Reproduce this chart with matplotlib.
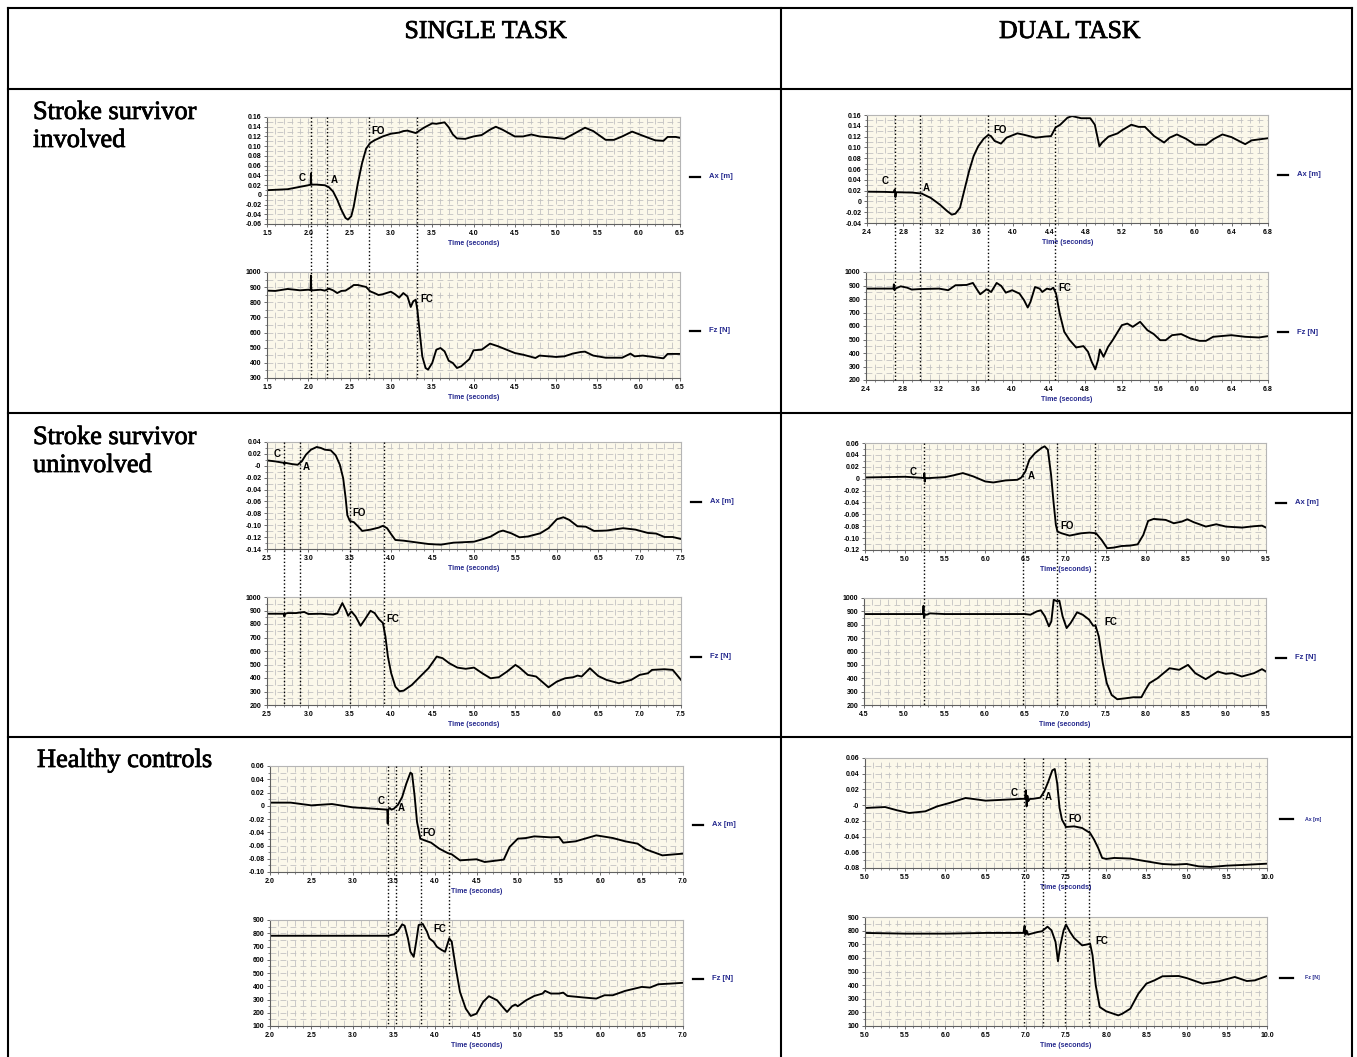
import matplotlib
matplotlib.use("Agg")
import matplotlib.pyplot as plt
import matplotlib.patheffects as pe
from matplotlib.lines import Line2D
from matplotlib.transforms import blended_transform_factory
from matplotlib.ticker import MultipleLocator

plt.rcParams['font.family'] = ['Liberation Sans', 'DejaVu Sans']

# ---------------------------------------------------------------------------
# Recorded traces: (time [s], value) pairs.  Ax in metres, Fz in newtons.
# ---------------------------------------------------------------------------
# Stroke survivor, involved limb - single task
st_inv_ax = [(1.5, 0.0095), (1.75, 0.0115), (2.0, 0.0197), (2.028, 0.021), (2.032, 0.044), (2.036, 0.021),
             (2.1, 0.021), (2.2, 0.0197), (2.25, 0.0156), (2.3, 0.0068), (2.35, -0.010), (2.4, -0.0306),
             (2.45, -0.0475), (2.48, -0.051), (2.52, -0.044), (2.55, -0.024), (2.6, 0.024), (2.65, 0.0645),
             (2.7, 0.095), (2.75, 0.1066), (2.8, 0.112), (2.9, 0.120), (3.0, 0.1256), (3.1, 0.128),
             (3.15, 0.131), (3.2, 0.132), (3.3, 0.127), (3.4, 0.138), (3.5, 0.147), (3.55, 0.146),
             (3.65, 0.149), (3.7, 0.139), (3.75, 0.124), (3.8, 0.116), (3.9, 0.115), (4.0, 0.120),
             (4.1, 0.123), (4.2, 0.134), (4.27, 0.140), (4.35, 0.134), (4.5, 0.120), (4.6, 0.120),
             (4.7, 0.124), (4.8, 0.120), (5.0, 0.117), (5.1, 0.115), (5.2, 0.124), (5.35, 0.138),
             (5.45, 0.131), (5.6, 0.113), (5.7, 0.113), (5.8, 0.120), (5.92, 0.130), (6.05, 0.1215),
             (6.2, 0.112), (6.3, 0.111), (6.35, 0.119), (6.45, 0.119), (6.5, 0.117)]
st_inv_fz = [(1.5, 877), (1.6, 875), (1.75, 888), (1.9, 879), (2.0, 883), (2.028, 880), (2.032, 976),
             (2.036, 880), (2.05, 879), (2.15, 883), (2.2, 877), (2.25, 890), (2.3, 879), (2.35, 861),
             (2.4, 875), (2.45, 877), (2.5, 894), (2.55, 914), (2.6, 914), (2.7, 901), (2.75, 872),
             (2.8, 861), (2.85, 848), (2.9, 853), (3.0, 870), (3.05, 853), (3.1, 831), (3.15, 861),
             (3.2, 839), (3.24, 769), (3.27, 806), (3.3, 817), (3.32, 751), (3.35, 597), (3.38, 443),
             (3.42, 366), (3.45, 355), (3.5, 399), (3.55, 487), (3.6, 498), (3.65, 476), (3.7, 414),
             (3.75, 399), (3.8, 366), (3.85, 377), (3.95, 425), (4.0, 483), (4.1, 487), (4.2, 527),
             (4.3, 509), (4.4, 487), (4.5, 465), (4.6, 454), (4.75, 432), (4.8, 448), (5.0, 439),
             (5.1, 443), (5.2, 461), (5.3, 472), (5.35, 474), (5.45, 448), (5.6, 434), (5.8, 434),
             (5.9, 461), (5.95, 443), (6.05, 448), (6.2, 437), (6.3, 430), (6.35, 459), (6.5, 459)]

# Stroke survivor, involved limb - dual task
dt_inv_ax = [(2.4, 0.018), (2.6, 0.0176), (2.69, 0.017), (2.705, 0.022), (2.712, 0.008), (2.72, 0.017),
             (2.9, 0.0163), (3.0, 0.0145), (3.1, 0.0064), (3.2, -0.006), (3.28, -0.018), (3.33, -0.0245),
             (3.37, -0.0227), (3.42, -0.012), (3.47, 0.022), (3.52, 0.056), (3.57, 0.084), (3.62, 0.102),
             (3.68, 0.116), (3.73, 0.123), (3.76, 0.121), (3.8, 0.112), (3.87, 0.107), (3.93, 0.118),
             (4.05, 0.126), (4.12, 0.1235), (4.25, 0.118), (4.35, 0.120), (4.42, 0.121), (4.47, 0.137),
             (4.52, 0.142), (4.6, 0.155), (4.65, 0.158), (4.75, 0.154), (4.85, 0.154), (4.9, 0.142),
             (4.93, 0.118), (4.95, 0.102), (4.98, 0.109), (5.05, 0.120), (5.15, 0.126), (5.2, 0.132),
             (5.3, 0.142), (5.38, 0.138), (5.45, 0.138), (5.55, 0.121), (5.66, 0.109), (5.72, 0.118),
             (5.8, 0.124), (5.9, 0.116), (6.0, 0.105), (6.12, 0.105), (6.2, 0.115), (6.3, 0.124),
             (6.4, 0.119), (6.48, 0.112), (6.55, 0.106), (6.62, 0.113), (6.8, 0.117)]
dt_inv_fz = [(2.4, 877), (2.7, 877), (2.705, 909), (2.712, 865), (2.72, 877), (2.78, 894), (2.85, 884),
             (2.9, 870), (3.0, 874), (3.2, 877), (3.3, 865), (3.38, 902), (3.5, 904), (3.57, 919),
             (3.62, 865), (3.65, 835), (3.72, 872), (3.77, 852), (3.83, 919), (3.88, 897), (3.93, 847),
             (4.0, 865), (4.08, 840), (4.13, 791), (4.17, 737), (4.2, 778), (4.25, 889), (4.3, 877),
             (4.33, 852), (4.38, 877), (4.42, 870), (4.45, 884), (4.48, 840), (4.52, 692), (4.57, 557),
             (4.63, 495), (4.7, 441), (4.78, 451), (4.83, 409), (4.87, 335), (4.91, 279), (4.94, 348),
             (4.96, 426), (5.0, 372), (5.05, 446), (5.1, 495), (5.2, 606), (5.26, 618), (5.32, 594),
             (5.4, 631), (5.48, 569), (5.55, 540), (5.62, 495), (5.68, 495), (5.75, 532), (5.85, 540),
             (5.95, 508), (6.05, 490), (6.12, 490), (6.2, 520), (6.4, 532), (6.55, 520), (6.7, 515),
             (6.8, 525)]

# Stroke survivor, uninvolved limb - single task
st_uninv_ax = [(2.5, 0.009), (2.6, 0.0074), (2.7, 0.005), (2.71, 0.003), (2.72, 0.005), (2.8, 0.0029),
               (2.87, 0.0017), (2.92, 0.0074), (2.97, 0.0186), (3.03, 0.027), (3.1, 0.0316), (3.15, 0.030),
               (3.2, 0.027), (3.27, 0.026), (3.33, 0.0175), (3.38, 0.0017), (3.42, -0.021), (3.45, -0.0546),
               (3.47, -0.083), (3.5, -0.0927), (3.55, -0.095), (3.6, -0.102), (3.65, -0.1096),
               (3.75, -0.1074), (3.85, -0.104), (3.9, -0.101), (3.95, -0.105), (4.0, -0.1152),
               (4.05, -0.1248), (4.15, -0.126), (4.3, -0.1288), (4.45, -0.1316), (4.6, -0.1327),
               (4.75, -0.1294), (5.0, -0.1277), (5.1, -0.1237), (5.2, -0.1192), (5.3, -0.111),
               (5.35, -0.109), (5.45, -0.1136), (5.55, -0.1203), (5.65, -0.119), (5.8, -0.1136),
               (5.9, -0.105), (6.0, -0.090), (6.08, -0.0866), (6.15, -0.091), (6.25, -0.1018),
               (6.35, -0.1024), (6.45, -0.1096), (6.6, -0.109), (6.8, -0.105), (6.95, -0.1074),
               (7.1, -0.113), (7.2, -0.114), (7.3, -0.1198), (7.4, -0.1198), (7.5, -0.1232)]
st_uninv_fz = [(2.5, 876), (2.65, 876), (2.7, 876), (2.71, 856), (2.72, 876), (2.75, 881), (2.85, 881),
               (2.95, 889), (3.0, 874), (3.15, 876), (3.3, 869), (3.35, 881), (3.41, 955), (3.45, 906),
               (3.48, 861), (3.52, 893), (3.57, 856), (3.63, 787), (3.68, 832), (3.75, 898), (3.8, 881),
               (3.85, 837), (3.9, 807), (3.93, 708), (3.96, 559), (4.0, 435), (4.05, 336), (4.1, 302),
               (4.15, 306), (4.25, 349), (4.35, 411), (4.45, 472), (4.55, 559), (4.62, 547), (4.7, 510),
               (4.8, 477), (4.9, 468), (5.0, 477), (5.1, 435), (5.2, 398), (5.3, 406), (5.4, 448),
               (5.5, 497), (5.55, 477), (5.65, 423), (5.75, 411), (5.9, 331), (6.0, 373), (6.1, 398),
               (6.2, 406), (6.25, 418), (6.3, 411), (6.4, 472), (6.5, 415), (6.6, 386), (6.75, 361),
               (6.9, 386), (7.0, 423), (7.1, 435), (7.15, 460), (7.3, 465), (7.4, 460), (7.5, 386)]

# Stroke survivor, uninvolved limb - dual task
dt_uninv_ax = [(4.5, 0.002), (5.0, 0.0032), (5.2, 0.0015), (5.235, 0.001), (5.24, 0.009), (5.245, -0.005),
               (5.25, 0.001), (5.3, 0.001), (5.5, 0.0026), (5.6, 0.0055), (5.72, 0.0094), (5.85, 0.0038),
               (6.0, -0.0047), (6.1, -0.0064), (6.25, -0.003), (6.4, -0.0019), (6.45, 0.002), (6.5, 0.0122),
               (6.55, 0.032), (6.62, 0.043), (6.7, 0.0516), (6.74, 0.0544), (6.78, 0.0488), (6.82, 0.0066),
               (6.85, -0.0384), (6.88, -0.0778), (6.9, -0.089), (6.95, -0.0918), (7.05, -0.0958),
               (7.2, -0.0918), (7.3, -0.0907), (7.38, -0.0918), (7.45, -0.103), (7.52, -0.117),
               (7.6, -0.116), (7.7, -0.1133), (7.8, -0.1127), (7.9, -0.1105), (7.97, -0.0947),
               (8.03, -0.0711), (8.1, -0.0677), (8.25, -0.0694), (8.35, -0.075), (8.45, -0.0722),
               (8.52, -0.0683), (8.6, -0.0733), (8.75, -0.0806), (8.88, -0.0767), (9.0, -0.0806),
               (9.2, -0.0823), (9.35, -0.08), (9.45, -0.079), (9.5, -0.0823)]
dt_uninv_fz = [(4.5, 880), (5.2, 880), (5.235, 880), (5.24, 942), (5.245, 850), (5.26, 878), (5.28, 875),
               (5.32, 885), (5.5, 880), (6.0, 880), (6.5, 880), (6.57, 875), (6.65, 900), (6.7, 908),
               (6.75, 863), (6.8, 788), (6.83, 825), (6.86, 988), (6.9, 975), (6.93, 980), (6.97, 863),
               (7.02, 775), (7.07, 813), (7.15, 893), (7.22, 875), (7.3, 838), (7.35, 793), (7.38, 793),
               (7.42, 713), (7.47, 513), (7.52, 363), (7.58, 275), (7.65, 243), (7.75, 250), (7.85, 258),
               (7.95, 258), (8.0, 313), (8.05, 363), (8.15, 400), (8.3, 475), (8.42, 463), (8.53, 500),
               (8.62, 438), (8.75, 393), (8.9, 450), (9.0, 433), (9.08, 438), (9.2, 413), (9.35, 438),
               (9.45, 468), (9.5, 450)]

# Healthy controls - single task
st_ctrl_ax = [(2.0, 0.0047), (2.25, 0.0047), (2.5, 0.0006), (2.75, 0.0026), (3.0, -0.0024), (3.25, -0.0044),
              (3.42, -0.0059), (3.425, -0.027), (3.43, -0.006), (3.45, -0.0034), (3.47, -0.0059),
              (3.5, -0.0044), (3.55, 0.0016), (3.6, 0.0132), (3.65, 0.0333), (3.7, 0.050), (3.72, 0.048),
              (3.75, 0.0157), (3.78, -0.0245), (3.82, -0.0497), (3.87, -0.0522), (3.95, -0.0557),
              (4.05, -0.0648), (4.15, -0.0713), (4.2, -0.0733), (4.3, -0.0824), (4.5, -0.0808),
              (4.6, -0.0849), (4.7, -0.0834), (4.83, -0.0813), (4.9, -0.0623), (5.0, -0.0497),
              (5.1, -0.0487), (5.2, -0.0462), (5.4, -0.0477), (5.5, -0.0472), (5.55, -0.0557),
              (5.7, -0.0537), (5.95, -0.0447), (6.15, -0.0487), (6.3, -0.0537), (6.45, -0.0572),
              (6.55, -0.0658), (6.75, -0.0749), (6.9, -0.0733), (7.0, -0.0723)]
st_ctrl_fz = [(2.0, 781), (3.0, 781), (3.43, 781), (3.45, 785), (3.5, 791), (3.55, 817), (3.6, 867),
              (3.63, 857), (3.67, 761), (3.7, 660), (3.74, 622), (3.77, 736), (3.8, 862), (3.85, 870),
              (3.9, 812), (3.93, 761), (3.98, 736), (4.02, 698), (4.08, 673), (4.12, 660), (4.17, 761),
              (4.2, 736), (4.25, 534), (4.3, 357), (4.37, 231), (4.43, 176), (4.5, 193), (4.58, 282),
              (4.65, 325), (4.75, 294), (4.8, 256), (4.87, 206), (4.93, 249), (4.97, 262), (5.0, 249),
              (5.1, 294), (5.2, 327), (5.3, 345), (5.33, 365), (5.4, 345), (5.5, 345), (5.55, 352),
              (5.6, 327), (5.8, 315), (5.95, 307), (6.05, 332), (6.15, 332), (6.3, 365), (6.5, 395),
              (6.6, 390), (6.7, 415), (6.85, 420), (7.0, 426)]

# Healthy controls - dual task
dt_ctrl_ax = [(5.0, -0.0036), (5.25, -0.0024), (5.4, -0.0066), (5.55, -0.010), (5.75, -0.0079),
              (5.9, -0.0015), (6.05, 0.0027), (6.25, 0.0091), (6.35, 0.0078), (6.5, 0.0057), (6.75, 0.007),
              (6.99, 0.0082), (7.0, 0.019), (7.01, -0.0015), (7.02, 0.012), (7.03, 0.005), (7.05, 0.0078),
              (7.1, 0.0082), (7.18, 0.0095), (7.23, 0.0175), (7.28, 0.030), (7.33, 0.0443), (7.36, 0.046),
              (7.39, 0.028), (7.42, -0.0036), (7.45, -0.0185), (7.5, -0.0278), (7.6, -0.027),
              (7.7, -0.0291), (7.8, -0.0355), (7.85, -0.044), (7.9, -0.0545), (7.95, -0.0672),
              (8.0, -0.0685), (8.1, -0.0672), (8.3, -0.068), (8.5, -0.0715), (8.7, -0.0749),
              (8.85, -0.0757), (9.0, -0.0749), (9.15, -0.0779), (9.3, -0.0787), (9.5, -0.077),
              (9.7, -0.0761), (10.0, -0.0745)]
dt_ctrl_fz = [(5.0, 783), (5.5, 778), (6.0, 778), (6.5, 783), (6.97, 783), (6.985, 834), (6.995, 770),
              (7.01, 800), (7.03, 770), (7.05, 775), (7.15, 790), (7.2, 795), (7.27, 829), (7.32, 802),
              (7.37, 717), (7.4, 575), (7.43, 692), (7.47, 802), (7.5, 844), (7.55, 790), (7.6, 746),
              (7.7, 692), (7.75, 697), (7.8, 704), (7.83, 619), (7.87, 398), (7.92, 239), (8.0, 208),
              (8.05, 198), (8.15, 178), (8.2, 190), (8.3, 227), (8.4, 337), (8.5, 411), (8.6, 435),
              (8.7, 465), (8.9, 467), (9.0, 452), (9.2, 411), (9.4, 428), (9.6, 460), (9.75, 430),
              (9.85, 435), (10.0, 467)]

# Gait events (C, A, FO, FC) in seconds
st_inv_events = [2.03, 2.23, 2.73, 3.31]
dt_inv_events = [2.71, 2.98, 3.73, 4.46]
st_uninv_events = [2.71, 2.90, 3.50, 3.91]
dt_uninv_events = [5.24, 6.47, 6.89, 7.37]
st_ctrl_events = [3.43, 3.52, 3.83, 4.17]
dt_ctrl_events = [6.98, 7.21, 7.49, 7.78]

# Axis ticks and tick labels
st_inv_xticks = [1.5, 2.0, 2.5, 3.0, 3.5, 4.0, 4.5, 5.0, 5.5, 6.0, 6.5]
dt_inv_xticks = [2.4, 2.8, 3.2, 3.6, 4.0, 4.4, 4.8, 5.2, 5.6, 6.0, 6.4, 6.8]
st_uninv_xticks = [2.5, 3.0, 3.5, 4.0, 4.5, 5.0, 5.5, 6.0, 6.5, 7.0, 7.5]
dt_uninv_xticks = [4.5, 5.0, 5.5, 6.0, 6.5, 7.0, 7.5, 8.0, 8.5, 9.0, 9.5]
st_ctrl_xticks = [2.0, 2.5, 3.0, 3.5, 4.0, 4.5, 5.0, 5.5, 6.0, 6.5, 7.0]
dt_ctrl_xticks = [5.0, 5.5, 6.0, 6.5, 7.0, 7.5, 8.0, 8.5, 9.0, 9.5, 10.0]

st_inv_ax_yticks = [-0.06, -0.04, -0.02, 0.0, 0.02, 0.04, 0.06, 0.08, 0.10, 0.12, 0.14, 0.16]
st_inv_ax_ylabels = ['-0.06', '-0.04', '-0.02', '0', '0.02', '0.04', '0.06', '0.08', '0.10', '0.12', '0.14', '0.16']
dt_inv_ax_yticks = [-0.04, -0.02, 0.0, 0.02, 0.04, 0.06, 0.08, 0.10, 0.12, 0.14, 0.16]
dt_inv_ax_ylabels = ['-0.04', '-0.02', '0', '0.02', '0.04', '0.06', '0.08', '0.10', '0.12', '0.14', '0.16']
st_uninv_ax_yticks = [-0.14, -0.12, -0.10, -0.08, -0.06, -0.04, -0.02, 0.0, 0.02, 0.04]
st_uninv_ax_ylabels = ['-0.14', '-0.12', '-0.10', '-0.08', '-0.06', '-0.04', '-0.02', '-0', '0.02', '0.04']
dt_uninv_ax_yticks = [-0.12, -0.10, -0.08, -0.06, -0.04, -0.02, 0.0, 0.02, 0.04, 0.06]
dt_uninv_ax_ylabels = ['-0.12', '-0.10', '-0.08', '-0.06', '-0.04', '-0.02', '0', '0.02', '0.04', '0.06']
st_ctrl_ax_yticks = [-0.10, -0.08, -0.06, -0.04, -0.02, 0.0, 0.02, 0.04, 0.06]
st_ctrl_ax_ylabels = ['-0.10', '-0.08', '-0.06', '-0.04', '-0.02', '0', '0.02', '0.04', '0.06']
dt_ctrl_ax_yticks = [-0.08, -0.06, -0.04, -0.02, 0.0, 0.02, 0.04, 0.06]
dt_ctrl_ax_ylabels = ['-0.08', '-0.06', '-0.04', '-0.02', '-0', '0.02', '0.04', '0.06']

fz_ticks_300 = [300, 400, 500, 600, 700, 800, 900, 1000]
fz_ticks_200 = [200, 300, 400, 500, 600, 700, 800, 900, 1000]
fz_ticks_100 = [100, 200, 300, 400, 500, 600, 700, 800, 900]

column_titles = ['SINGLE TASK', 'DUAL TASK']
row_titles = [['Stroke survivor', 'involved'], ['Stroke survivor', 'uninvolved'], ['Healthy controls']]

# ---------------------------------------------------------------------------
# Figure set-up (pixel helpers)
# ---------------------------------------------------------------------------
W, H = 1357, 1057
fig = plt.figure(figsize=(W / 100, H / 100), dpi=100)
fig.patch.set_facecolor('white')


def fx(px):
    return px / W


def fy(py):
    return 1.0 - py / H


BG = '#FBF8EA'
GRID = '#C2C2C2'
NAVY = '#25298E'
SERIF = ['Liberation Serif', 'DejaVu Serif']
HEAVY = [pe.withStroke(linewidth=0.55, foreground='black')]


def make_panel(box, xticks, yticks, ylabels, series, name, marks, small_legend):
    l, t, r, b = box
    ax = fig.add_axes([fx(l), fy(b), (r - l) / W, (b - t) / H])
    ax.set_facecolor(BG)
    ax.set_axisbelow(True)
    ax.set_xlim(xticks[0], xticks[-1])
    ax.set_ylim(yticks[0], yticks[-1])
    ax.set_xticks(xticks)
    ax.set_xticklabels([f'{x:.1f}' for x in xticks], fontsize=5, fontweight='bold')
    ax.set_yticks(yticks)
    ax.set_yticklabels(ylabels, fontsize=5, fontweight='bold')
    ax.xaxis.set_minor_locator(MultipleLocator(0.1))
    ax.yaxis.set_minor_locator(MultipleLocator((yticks[1] - yticks[0]) / 2))
    ax.grid(True, which='both', axis='both', color=GRID, lw=0.6, ls=(0, (7, 5)))
    ax.tick_params(which='major', length=2.5, width=0.6, pad=1.5, color='#555555')
    ax.tick_params(which='minor', length=1.5, width=0.5, color='#555555')
    for side in ('top', 'right'):
        ax.spines[side].set_color('#B5B5B5')
        ax.spines[side].set_linewidth(0.8)
    for side in ('left', 'bottom'):
        ax.spines[side].set_color('#606060')
        ax.spines[side].set_linewidth(0.8)
    ax.set_xlabel('Time (seconds)', fontsize=5, fontweight='bold', color=NAVY, labelpad=2.5)

    ts = [p[0] for p in series]
    vs = [p[1] for p in series]
    ax.plot(ts, vs, color='black', lw=1.35, solid_joinstyle='round', clip_on=True)

    for label, tx, ty in marks:
        ax.text(tx, ty, label, fontsize=7, fontweight='bold', ha='center', va='center')

    yc = (t + b) / 2 + 6
    if small_legend:
        x0, x1, xt, fs = r + 13, r + 26, r + 38, 3.8
    else:
        x0, x1, xt, fs = r + 10, r + 20, r + 29, 5.5
    fig.add_artist(Line2D([fx(x0), fx(x1)], [fy(yc), fy(yc)], color='black', lw=1.6))
    fig.text(fx(xt), fy(yc), name, fontsize=fs, fontweight='bold', color=NAVY, ha='left', va='center')
    return ax


cells = [
    dict(ax_box=(267, 117, 680, 224), fz_box=(267, 272, 680, 378), xticks=st_inv_xticks,
         ax_ticks=st_inv_ax_yticks, ax_labels=st_inv_ax_ylabels, fz_ticks=fz_ticks_300,
         ax_data=st_inv_ax, fz_data=st_inv_fz, events=st_inv_events,
         ax_marks=[('C', 1.93, 0.035), ('A', 2.31, 0.031), ('FO', 2.845, 0.131)],
         fz_marks=[('FC', 3.44, 824)], small=False),
    dict(ax_box=(867, 115, 1268, 223), fz_box=(866, 272, 1268, 380), xticks=dt_inv_xticks,
         ax_ticks=dt_inv_ax_yticks, ax_labels=dt_inv_ax_ylabels, fz_ticks=fz_ticks_200,
         ax_data=dt_inv_ax, fz_data=dt_inv_fz, events=dt_inv_events,
         ax_marks=[('C', 2.6, 0.0374), ('A', 3.05, 0.0244), ('FO', 3.86, 0.132)],
         fz_marks=[('FC', 4.58, 884)], small=False),
    dict(ax_box=(267, 442, 681, 549), fz_box=(267, 597, 681, 705), xticks=st_uninv_xticks,
         ax_ticks=st_uninv_ax_yticks, ax_labels=st_uninv_ax_ylabels, fz_ticks=fz_ticks_200,
         ax_data=st_uninv_ax, fz_data=st_uninv_fz, events=st_uninv_events,
         ax_marks=[('C', 2.625, 0.0203), ('A', 2.976, -0.002), ('FO', 3.61, -0.0787)],
         fz_marks=[('FC', 4.02, 839)], small=False),
    dict(ax_box=(865, 443, 1266, 550), fz_box=(864, 598, 1266, 705), xticks=dt_uninv_xticks,
         ax_ticks=dt_uninv_ax_yticks, ax_labels=dt_uninv_ax_ylabels, fz_ticks=fz_ticks_200,
         ax_data=dt_uninv_ax, fz_data=dt_uninv_fz, events=dt_uninv_events,
         ax_marks=[('C', 5.10, 0.011), ('A', 6.57, 0.0049), ('FO', 7.02, -0.079)],
         fz_marks=[('FC', 7.57, 820)], small=False),
    dict(ax_box=(270, 766, 683, 872), fz_box=(270, 920, 683, 1026), xticks=st_ctrl_xticks,
         ax_ticks=st_ctrl_ax_yticks, ax_labels=st_ctrl_ax_ylabels, fz_ticks=fz_ticks_100,
         ax_data=st_ctrl_ax, fz_data=st_ctrl_fz, events=st_ctrl_events,
         ax_marks=[('C', 3.34, 0.0072), ('A', 3.59, -0.003), ('FO', 3.93, -0.041)],
         fz_marks=[('FC', 4.06, 829)], small=False),
    dict(ax_box=(865, 758, 1267, 868), fz_box=(865, 917, 1267, 1026), xticks=dt_ctrl_xticks,
         ax_ticks=dt_ctrl_ax_yticks, ax_labels=dt_ctrl_ax_ylabels, fz_ticks=fz_ticks_100,
         ax_data=dt_ctrl_ax, fz_data=dt_ctrl_fz, events=dt_ctrl_events,
         ax_marks=[('C', 6.855, 0.0154), ('A', 7.28, 0.0099), ('FO', 7.61, -0.017)],
         fz_marks=[('FC', 7.94, 721)], small=True),
]

for cell in cells:
    ax_top = make_panel(cell['ax_box'], cell['xticks'], cell['ax_ticks'], cell['ax_labels'],
                        cell['ax_data'], 'Ax [m]', cell['ax_marks'], cell['small'])
    make_panel(cell['fz_box'], cell['xticks'], cell['fz_ticks'], [str(v) for v in cell['fz_ticks']],
               cell['fz_data'], 'Fz [N]', cell['fz_marks'], cell['small'])
    # dotted event markers spanning both panels of the cell
    trans = blended_transform_factory(ax_top.transData, fig.transFigure)
    y_top = fy(cell['ax_box'][1])
    y_bot = fy(cell['fz_box'][3])
    for ev in cell['events']:
        fig.add_artist(Line2D([ev, ev], [y_top, y_bot], transform=trans, color='black',
                              lw=1.0, ls=(0, (1, 1.6)), zorder=5))

# ---------------------------------------------------------------------------
# Table frame and headings
# ---------------------------------------------------------------------------
FRAME_LW = 1.5
for y in (8, 89, 413, 737):
    fig.add_artist(Line2D([fx(8), fx(1352)], [fy(y), fy(y)], color='black', lw=FRAME_LW))
for x in (8, 781, 1352):
    fig.add_artist(Line2D([fx(x), fx(x)], [fy(8), fy(1057)], color='black', lw=FRAME_LW))

fig.text(fx(486), fy(38), column_titles[0], family=SERIF, fontsize=18.5, ha='center', va='baseline',
         path_effects=HEAVY)
fig.text(fx(1070), fy(38), column_titles[1], family=SERIF, fontsize=18.5, ha='center', va='baseline',
         path_effects=HEAVY)

row_baselines = [(33, [119, 147]), (33, [444, 472]), (37, [767])]
for (x, ys), lines in zip(row_baselines, row_titles):
    for y, txt in zip(ys, lines):
        fig.text(fx(x), fy(y), txt, family=SERIF, fontsize=19, ha='left', va='baseline',
                 path_effects=HEAVY)

fig.savefig('out.png', dpi=100, facecolor='white')
